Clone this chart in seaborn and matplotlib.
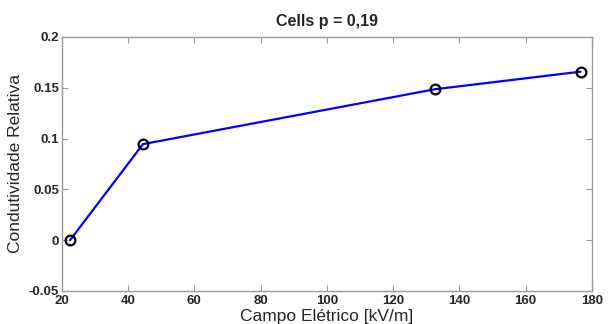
import pandas as pd
import matplotlib.pyplot as plt
import seaborn as sns

# values
campo = [22.5, 44.5, 132.6, 176.6]
condutividade = [0.0, 0.0945, 0.1485, 0.1658]
xticks = [20, 40, 60, 80, 100, 120, 140, 160, 180]
yticks = [-0.05, 0, 0.05, 0.1, 0.15, 0.2]
ytick_labels = ['-0.05', '0', '0.05', '0.1', '0.15', '0.2']

df = pd.DataFrame({'campo': campo, 'cond': condutividade})

sns.set_style('white')
plt.rcParams['font.family'] = ['Liberation Sans', 'DejaVu Sans']

fig = plt.figure(figsize=(6.12, 3.24), dpi=100)
ax = fig.add_axes([0.101, 0.102, 0.866, 0.784])

sns.lineplot(data=df, x='campo', y='cond', ax=ax, color='#0000ff', linewidth=1.6,
             marker='o', markersize=7, markerfacecolor='none',
             markeredgecolor='black', markeredgewidth=1.6, sort=False)

ax.set_xlim(20, 180)
ax.set_ylim(-0.05, 0.2)
ax.set_xticks(xticks)
ax.set_yticks(yticks)
ax.set_yticklabels(ytick_labels)
for lbl in ax.get_xticklabels() + ax.get_yticklabels():
    lbl.set_fontweight('bold')
ax.tick_params(direction='in', length=4, width=0.8, color='#999999',
               labelsize=9.5, top=True, right=True, bottom=True, left=True)
ax.tick_params(axis='x', pad=3)
ax.tick_params(axis='y', pad=2)
for s in ax.spines.values():
    s.set_color('#999999')
    s.set_linewidth(1)

ax.set_xlabel('Campo Elétrico [kV/m]', fontsize=12.5, labelpad=1)
ax.set_ylabel('Condutividade Relativa', fontsize=12.5, labelpad=4)
ax.set_title('Cells p = 0,19', fontsize=11.5, fontweight='bold', pad=8)

fig.savefig('out.png', dpi=100)
